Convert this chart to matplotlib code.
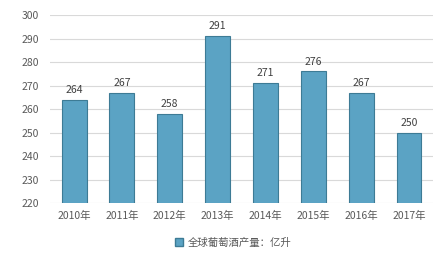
import matplotlib
matplotlib.use("Agg")
import matplotlib.pyplot as plt
from matplotlib.patches import Patch

plt.rcParams['font.family'] = ['Noto Sans CJK SC', 'DejaVu Sans']

years = ['2010年', '2011年', '2012年', '2013年', '2014年', '2015年', '2016年', '2017年']
values = [264, 267, 258, 291, 271, 276, 267, 250]
series_name = '全球葡萄酒产量：亿升'

fig = plt.figure(figsize=(4.36, 2.59), dpi=100)
ax = fig.add_axes([0.115, 0.216, 0.878, 0.726])

x = range(len(years))
bars = ax.bar(x, values, width=0.52, color='#5ba3c4', edgecolor='#3d7b95', linewidth=0.8, zorder=3)
for xi, v in zip(x, values):
    ax.text(xi, v + 2, str(v), ha='center', va='bottom', fontsize=7.5, color='#404040')

ax.set_ylim(220, 300)
ax.set_yticks(range(220, 301, 10))
ax.set_xlim(-0.5, len(years) - 0.5)
ax.set_xticks(list(x))
ax.set_xticklabels(years)
ax.tick_params(axis='both', length=0, labelsize=7.5, colors='#595959')
ax.tick_params(axis='x', pad=6)
ax.tick_params(axis='y', pad=8)
ax.grid(axis='y', color='#d9d9d9', linewidth=0.8, zorder=0)
for s in ax.spines.values():
    s.set_visible(False)

fig.legend(handles=[Patch(facecolor='#5ba3c4', edgecolor='#3d7b95', label=series_name)],
           loc='center', bbox_to_anchor=(0.535, 0.062), frameon=False, fontsize=7.5,
           handlelength=0.8, handleheight=0.8, handletextpad=0.4, labelcolor='#595959')

fig.savefig('out.png', dpi=100)
